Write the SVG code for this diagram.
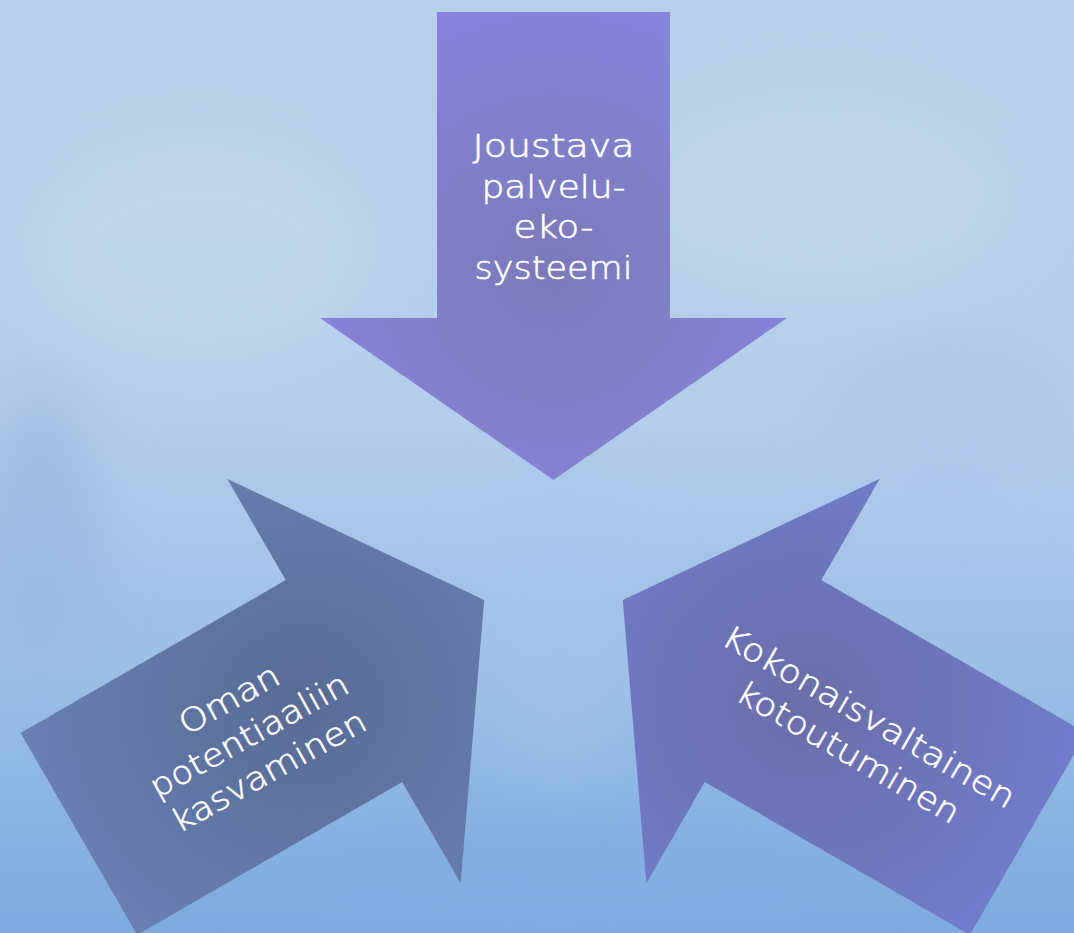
<svg xmlns="http://www.w3.org/2000/svg" width="1074" height="933" viewBox="0 0 1074 933">
<defs>
<linearGradient id="bg" x1="0" y1="0" x2="0" y2="1">
<stop offset="0" stop-color="#bad0ea"/>
<stop offset="0.45" stop-color="#b3cdea"/>
<stop offset="0.75" stop-color="#98bde6"/>
<stop offset="1" stop-color="#7eaade"/>
</linearGradient>
<filter id="blur" x="-50%" y="-50%" width="200%" height="200%"><feGaussianBlur stdDeviation="30"/></filter>
<radialGradient id="gTop" cx="0.5" cy="0.55" r="0.6">
<stop offset="0" stop-color="#7c7ab8"/>
<stop offset="1" stop-color="#8884de"/>
</radialGradient>
<radialGradient id="gLeft" cx="0.5" cy="0.55" r="0.6">
<stop offset="0" stop-color="#596b94"/>
<stop offset="1" stop-color="#6880b4"/>
</radialGradient>
<radialGradient id="gRight" cx="0.5" cy="0.55" r="0.6">
<stop offset="0" stop-color="#6a6ea8"/>
<stop offset="1" stop-color="#717ccc"/>
</radialGradient>
<style>
.lbl{font-family:"DejaVu Sans","Liberation Sans",sans-serif;font-size:32px;font-weight:300;fill:#ffffff;stroke:#ffffff;stroke-width:0.6px;text-anchor:middle}
</style>
</defs>
<g id="background">
<rect width="1074" height="933" fill="url(#bg)"/>
<g filter="url(#blur)" opacity="0.55">
<ellipse cx="200" cy="250" rx="180" ry="120" fill="#c8dbf0"/>
<ellipse cx="820" cy="200" rx="200" ry="110" fill="#c6d9ef"/>
<ellipse cx="950" cy="420" rx="120" ry="80" fill="#a8c4e6"/>
<ellipse cx="560" cy="620" rx="90" ry="150" fill="#a6c6ea"/>
<ellipse cx="40" cy="520" rx="60" ry="140" fill="#95b6dc"/>
<ellipse cx="560" cy="880" rx="300" ry="60" fill="#82ade2"/>
</g>
</g>
<g id="connectors"></g>
<g id="node-top">
<path d="M437,12 H670 V318 H787 L553.5,480 L320,318 H437 Z" fill="url(#gTop)"/>
<text class="lbl" x="553.5" y="157" textLength="162" lengthAdjust="spacingAndGlyphs">Joustava</text>
<text class="lbl" x="553.5" y="198" textLength="144" lengthAdjust="spacingAndGlyphs">palvelu-</text>
<text class="lbl" x="553.5" y="238" textLength="80" lengthAdjust="spacingAndGlyphs">eko-</text>
<text class="lbl" x="553.5" y="279" textLength="158" lengthAdjust="spacingAndGlyphs">systeemi</text>
</g>
<g id="node-left">
<path d="M437,12 H670 V318 H787 L553.5,480 L320,318 H437 Z" transform="rotate(-120 553.5 560)" fill="url(#gLeft)"/>
<g transform="translate(250 737) rotate(-29)">
<text class="lbl" x="0" y="-32" textLength="110" lengthAdjust="spacingAndGlyphs">Oman</text>
<text class="lbl" x="0" y="9" textLength="222" lengthAdjust="spacingAndGlyphs">potentiaaliin</text>
<text class="lbl" x="0" y="50" textLength="217" lengthAdjust="spacingAndGlyphs">kasvaminen</text>
</g>
</g>
<g id="node-right">
<path d="M437,12 H670 V318 H787 L553.5,480 L320,318 H437 Z" transform="rotate(120 553.5 560)" fill="url(#gRight)"/>
<g transform="translate(858 736) rotate(30)">
<text class="lbl" x="0" y="-11" textLength="332" lengthAdjust="spacingAndGlyphs">Kokonaisvaltainen</text>
<text class="lbl" x="0" y="30" textLength="251" lengthAdjust="spacingAndGlyphs">kotoutuminen</text>
</g>
</g>
</svg>
